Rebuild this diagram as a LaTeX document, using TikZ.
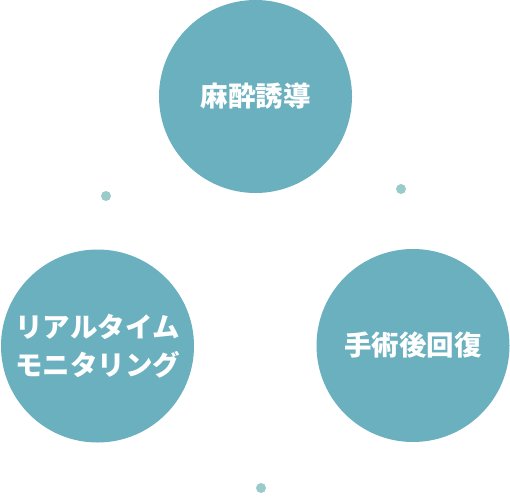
\documentclass[tikz,border=0pt]{standalone}
\usepackage{fontspec}
\newfontfamily\cjk{Noto Sans CJK JP}
\definecolor{circ}{HTML}{6AB0BE}
\definecolor{dotc}{HTML}{9ACBCB}
\begin{document}
\begin{tikzpicture}[x=1pt,y=-1pt,
  bigc/.style={circle,fill=circ,minimum size=193pt,inner sep=0pt,text=white,align=center,
    font=\cjk\bfseries\fontsize{27.5}{38}\selectfont},
  smalld/.style={circle,fill=dotc,minimum size=10pt,inner sep=0pt}]
\useasboundingbox (0,0) rectangle (510,503);
\node[bigc] (a) at (255.5,96.5) {麻酔誘導};
\node[bigc] (b) at (97.5,346) {リアルタイム\\モニタリング};
\node[bigc] (c) at (413,345.5) {手術後回復};
\node[smalld] (d1) at (106,196) {};
\node[smalld] (d2) at (401,189) {};
\node[smalld] (d3) at (261,488) {};
\end{tikzpicture}
\end{document}
